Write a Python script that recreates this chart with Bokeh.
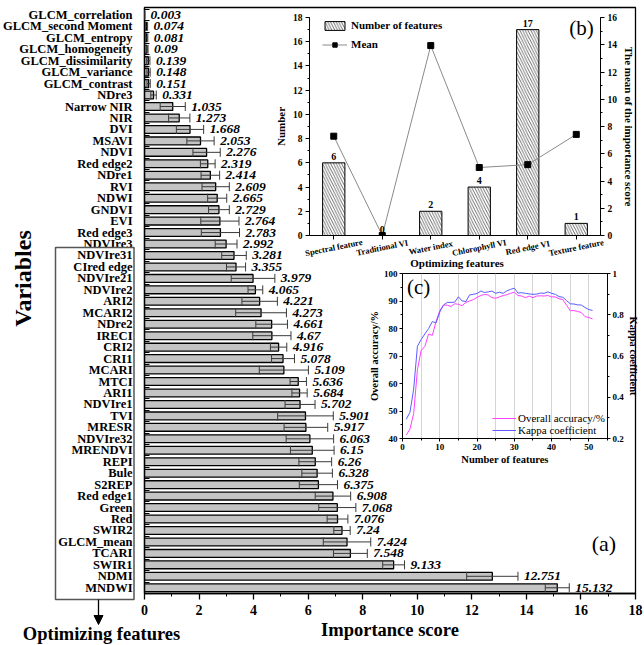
from math import pi
from bokeh.plotting import figure
from bokeh.models import (Range1d, FixedTicker, LinearAxis, ColumnDataSource, Whisker, TeeHead,
                          Arrow, NormalHead, Label, LabelSet, Legend, LegendItem,
                          SingleIntervalTicker, GridBox)
from bokeh.embed import file_html
from bokeh.resources import INLINE
from bokeh.core.properties import value

SERIF = "Liberation Serif"

# ---------------- data ----------------
variables = ["GLCM_correlation", "GLCM_second Moment", "GLCM_entropy", "GLCM_homogeneity",
             "GLCM_dissimilarity", "GLCM_variance", "GLCM_contrast", "NDre3", "Narrow NIR", "NIR",
             "DVI", "MSAVI", "NDVI", "Red edge2", "NDre1", "RVI", "NDWI", "GNDVI", "EVI", "Red edge3",
             "NDVIre3", "NDVIre31", "CIred edge", "NDVIre21", "NDVIre2", "ARI2", "MCARI2", "NDre2",
             "IRECI", "CRI2", "CRI1", "MCARI", "MTCI", "ARI1", "NDVIre1", "TVI", "MRESR", "NDVIre32",
             "MRENDVI", "REPI", "Bule", "S2REP", "Red edge1", "Green", "Red", "SWIR2", "GLCM_mean",
             "TCARI", "SWIR1", "NDMI", "MNDWI"]
importance = [0.003, 0.074, 0.081, 0.09, 0.139, 0.148, 0.151, 0.331, 1.035, 1.273,
              1.668, 2.053, 2.276, 2.319, 2.414, 2.609, 2.665, 2.729, 2.764, 2.783,
              2.992, 3.281, 3.355, 3.979, 4.065, 4.221, 4.273, 4.661, 4.67, 4.916,
              5.078, 5.109, 5.636, 5.684, 5.702, 5.901, 5.917, 6.063, 6.15, 6.26,
              6.328, 6.375, 6.908, 7.068, 7.076, 7.24, 7.424, 7.548, 9.133, 12.751, 15.132]
importance_sd = [0.0, 0.04, 0.04, 0.04, 0.06, 0.06, 0.06, 0.1, 0.46, 0.39,
                 0.5, 0.5, 0.5, 0.27, 0.34, 0.5, 0.35, 0.38, 0.7, 0.7,
                 0.4, 0.45, 0.35, 0.8, 0.27, 0.65, 0.93, 0.58, 0.7, 0.3,
                 0.42, 0.9, 0.3, 0.28, 0.55, 1.02, 0.8, 0.87, 0.8, 0.6,
                 0.56, 0.7, 0.65, 0.68, 0.38, 0.3, 0.87, 0.62, 0.4, 0.94, 0.44]

groups = ["Spectral feature", "Traditional VI", "Water index", "Chlorophyll VI",
          "Red edge VI", "Texture feature"]
group_counts = [6, 0, 2, 4, 17, 1]
group_means = [7.29, 0.0, 13.94, 4.99, 5.2, 7.42]

n_features = list(range(1, 52))
overall_accuracy = [41.2, 43.4, 49.1, 65, 72, 73.5, 78, 77.5, 82.5, 86.5,
                    88.5, 88.5, 88, 89, 88.8, 88.3, 89.5, 90, 90.5, 91.3,
                    92, 92.4, 92.2, 91.2, 91, 91.5, 92, 92.3, 92.8, 93.2,
                    92, 91.8, 91.2, 91.8, 91.2, 91.8, 91.9, 91.8, 92, 91.5,
                    91.5, 90.8, 90.5, 88.5, 86.5, 86.5, 86.2, 85.8, 84.3, 84, 83.5]
kappa = [0.293, 0.327, 0.44, 0.647, 0.68, 0.707, 0.733, 0.767, 0.76, 0.813,
         0.847, 0.86, 0.86, 0.861, 0.887, 0.867, 0.864, 0.896, 0.899, 0.903,
         0.915, 0.908, 0.911, 0.915, 0.904, 0.909, 0.904, 0.916, 0.923, 0.929,
         0.905, 0.907, 0.904, 0.901, 0.899, 0.9, 0.905, 0.904, 0.911, 0.904,
         0.899, 0.888, 0.885, 0.869, 0.853, 0.852, 0.848, 0.847, 0.835, 0.825, 0.821]


def style_axis(ax, tick_size, label_size, bold_label=True):
    ax.major_label_text_font = SERIF
    ax.major_label_text_font_style = "bold"
    ax.major_label_text_font_size = tick_size
    ax.major_label_text_color = "black"
    ax.axis_label_text_font = SERIF
    ax.axis_label_text_font_style = "bold" if bold_label else "normal"
    ax.axis_label_text_font_size = label_size
    ax.axis_label_text_color = "black"


COMMON = dict(output_backend="svg", toolbar_location=None, title=None, frame_align=False)

# ---------------- main plot (a) ----------------
idx = list(range(len(variables)))
src = ColumnDataSource(dict(
    y=idx, v=importance,
    lo=[v - s for v, s in zip(importance, importance_sd)],
    hi=[v + s for v, s in zip(importance, importance_sd)],
    lab=[str(v) for v in importance]))

p = figure(width=644, height=645, x_range=Range1d(0, 18), y_range=Range1d(50.5, -0.64),
           min_border_left=143, min_border_right=9, min_border_top=7, min_border_bottom=52,
           **COMMON)
p.grid.visible = False
p.outline_line_color = "black"
p.outline_line_width = 1.3
p.background_fill_color = "white"

p.hbar(y="y", right="v", left=0, height=0.68, source=src,
       fill_color="#c4c4c4", line_color="black", line_width=1.3)
p.add_layout(Whisker(source=src, base="y", lower="lo", upper="hi", dimension="width",
                     line_color="#3a3a3a", line_width=1, level="annotation",
                     upper_head=TeeHead(size=9, line_color="#3a3a3a", line_width=1),
                     lower_head=TeeHead(size=9, line_color="#3a3a3a", line_width=1)))
p.add_layout(LabelSet(source=src, x="hi", y="y", text="lab", x_offset=6,
                      text_baseline="middle", text_font=value(SERIF),
                      text_font_style="bold italic", text_font_size="13.5px",
                      text_color="black"))

ya = p.yaxis[0]
ya.ticker = FixedTicker(ticks=idx, minor_ticks=[i + 0.5 for i in range(-1, 51)])
ya.major_label_overrides = {i: name for i, name in enumerate(variables)}
ya.major_tick_out = 0
ya.major_tick_in = 0
ya.minor_tick_in = 5
ya.minor_tick_out = 0
ya.major_label_standoff = 12
ya.axis_line_width = 1.3
style_axis(ya, "12.5px", "12px")

xa = p.xaxis[0]
xa.ticker = FixedTicker(ticks=list(range(0, 19, 2)), minor_ticks=list(range(1, 18, 2)))
xa.major_tick_out = 6
xa.major_tick_in = 0
xa.minor_tick_out = 3
xa.minor_tick_in = 0
xa.major_tick_line_width = 1.3
xa.axis_line_width = 1.3
xa.major_label_standoff = 5
xa.axis_label = "Importance score"
xa.axis_label_standoff = 2
style_axis(xa, "14px", "18.5px")

p.add_layout(Label(x=16.84, y=46.18, text="(a)", text_align="center", text_baseline="middle",
                   text_font=SERIF, text_font_size="22px", text_color="black"))

# ---------------- inset (b) ----------------
PB_LEFT, PB_RIGHT, PB_BOTTOM = 309, 600, 235   # inset frame edges on the page
gidx = list(range(len(groups)))
gsrc = ColumnDataSource(dict(x=gidx, name=groups, count=group_counts,
                             clab=[str(c) for c in group_counts], mean=group_means))

pb = figure(width=389, height=270, x_range=Range1d(-0.5, 5.5), y_range=Range1d(0, 18),
            min_border_left=54, min_border_right=44, min_border_top=17, min_border_bottom=35,
            **COMMON)
pb.background_fill_color = None
pb.border_fill_color = None
pb.outline_line_color = None
pb.grid.visible = False
pb.extra_y_ranges = {"mean": Range1d(0, 16)}

r_bar = pb.vbar(x="x", top="count", width=0.46, source=gsrc, fill_color="white",
                line_color="black", line_width=1, hatch_pattern="\\", hatch_color="#333333",
                hatch_scale=5.5, hatch_weight=0.7)
r_line = pb.line(x="x", y="mean", source=gsrc, y_range_name="mean",
                 line_color="#8a8a8a", line_width=1)
r_pts = pb.scatter(x="x", y="mean", source=gsrc, y_range_name="mean", marker="square",
                   size=6, fill_color="black", line_color="black")

pb.add_layout(LabelSet(source=gsrc, x="x", y="count", text="clab", y_offset=3,
                       text_align="center", text_baseline="bottom", text_font=value(SERIF),
                       text_font_style="bold", text_font_size="10px", text_color="black"))

ba = pb.xaxis[0]
ba.ticker = FixedTicker(ticks=[], minor_ticks=gidx)
ba.minor_tick_out = 4
ba.minor_tick_in = 0
ba.major_tick_out = 0

la = pb.yaxis[0]
ra = LinearAxis(y_range_name="mean")
pb.add_layout(ra, "right")
for ax, lab in ((la, "Number"), (ra, "The mean of the importance score")):
    ax.ticker = SingleIntervalTicker(interval=2, num_minor_ticks=2)
    ax.major_tick_out = 4
    ax.major_tick_in = 0
    ax.minor_tick_out = 2
    ax.minor_tick_in = 0
    ax.major_label_standoff = 3
    ax.axis_label = lab
    ax.axis_label_standoff = 3
    style_axis(ax, "9.5px", "11px")

pb.add_layout(Label(x=5.11, y=17.1, text="(b)", text_align="center", text_baseline="middle",
                    text_font=SERIF, text_font_size="21px", text_color="black"))

leg_b = Legend(items=[LegendItem(label="Number of features", renderers=[r_bar]),
                      LegendItem(label="Mean", renderers=[r_line, r_pts])],
               location=(13, 185), orientation="vertical", glyph_width=25, glyph_height=11,
               label_height=11, spacing=7, padding=0, margin=0, label_standoff=4,
               border_line_color=None, background_fill_alpha=0,
               label_text_font=SERIF, label_text_font_style="bold",
               label_text_font_size="11px", label_text_color="black")
pb.add_layout(leg_b)

# ---------------- inset (c) ----------------
csrc = ColumnDataSource(dict(n=n_features, oa=overall_accuracy, k=kappa))
pc = figure(width=279, height=205, x_range=Range1d(0, 55), y_range=Range1d(40, 100),
            min_border_left=33, min_border_right=37, min_border_top=11, min_border_bottom=29,
            **COMMON)
pc.background_fill_color = None
pc.border_fill_color = None
pc.outline_line_color = "black"
pc.outline_line_width = 1
pc.extra_y_ranges = {"kappa": Range1d(0.2, 1.0)}
pc.ygrid.visible = False
pc.xgrid.ticker = SingleIntervalTicker(interval=5)
pc.xgrid.grid_line_color = "#d4d4d4"
pc.xgrid.grid_line_width = 1

r_oa = pc.line(x="n", y="oa", source=csrc, line_color="#ff40ff", line_width=1)
r_k = pc.line(x="n", y="k", source=csrc, y_range_name="kappa", line_color="#5c5cff", line_width=1)

rc = LinearAxis(y_range_name="kappa")
pc.add_layout(rc, "right")
cx = pc.xaxis[0]
cl = pc.yaxis[0]
cx.ticker = SingleIntervalTicker(interval=10, num_minor_ticks=2)
cl.ticker = SingleIntervalTicker(interval=10, num_minor_ticks=2)
rc.ticker = SingleIntervalTicker(interval=0.2, num_minor_ticks=2)
for ax, lab in ((cx, "Number of features"), (cl, "Overall accuracy/%"), (rc, "Kappa coefficient")):
    ax.major_tick_out = 3
    ax.major_tick_in = 0
    ax.minor_tick_out = 2
    ax.minor_tick_in = 0
    ax.major_label_standoff = 2
    ax.axis_label = lab
    ax.axis_label_standoff = 1
    style_axis(ax, "9px", "10.5px")

pc.add_layout(Label(x=4.35, y=95.2, text="(c)", text_align="center", text_baseline="middle",
                    text_font=SERIF, text_font_size="21px", text_color="black"))
leg_c = Legend(items=[LegendItem(label="Overall accuracy/%", renderers=[r_oa]),
                      LegendItem(label="Kappa coefficient", renderers=[r_k])],
               location="bottom_right", glyph_width=24, glyph_height=12, label_height=12,
               spacing=0, padding=0, margin=2, label_standoff=2,
               border_line_color=None, background_fill_alpha=0,
               label_text_font=SERIF, label_text_font_size="11px", label_text_color="black")
pc.add_layout(leg_c)

# ---------------- overlay for texts outside the frames (page pixel coordinates) -------------
ov = figure(width=644, height=645, x_range=Range1d(0, 644), y_range=Range1d(645, 0),
            x_axis_location=None, y_axis_location=None,
            min_border_left=0, min_border_right=0, min_border_top=0, min_border_bottom=0,
            **COMMON)
ov.grid.visible = False
ov.outline_line_color = None
ov.background_fill_color = None
ov.border_fill_color = None

ov.quad(left=55, right=133.5, top=247, bottom=599, fill_color=None,
        line_color="#555555", line_width=1.5)
ov.add_layout(Arrow(x_start=98, y_start=599, x_end=98, y_end=624,
                    line_color="black", line_width=1.3,
                    end=NormalHead(size=9, fill_color="black", line_color="black")))
ov.add_layout(Label(x=22, y=278, text="Variables", angle=pi / 2, text_align="center",
                    text_baseline="middle", text_font=SERIF, text_font_style="bold",
                    text_font_size="24px", text_color="black"))
ov.add_layout(Label(x=101, y=633, text="Optimizing features", text_align="center",
                    text_baseline="middle", text_font=SERIF, text_font_style="bold",
                    text_font_size="18.5px", text_color="black"))

step = (PB_RIGHT - PB_LEFT) / len(groups)
osrc = ColumnDataSource(dict(px=[PB_LEFT + (i + 0.5) * step for i in gidx],
                             py=[PB_BOTTOM] * len(groups), name=groups))
ov.add_layout(LabelSet(source=osrc, x="px", y="py", text="name", y_offset=-12, angle=0.2,
                       text_align="center", text_baseline="middle", text_font=value(SERIF),
                       text_font_style="bold", text_font_size="8.5px", text_color="black"))
ov.add_layout(Label(x=(PB_LEFT + PB_RIGHT) / 2 + 2, y=PB_BOTTOM + 27, text="Optimizing features",
                    text_align="center", text_baseline="middle", text_font=SERIF,
                    text_font_style="bold", text_font_size="11px", text_color="black"))

layout = GridBox(children=[(p, 0, 0, 4, 3), (pb, 0, 1, 2, 2), (pc, 1, 2, 2, 1), (ov, 0, 0, 4, 3)],
                 rows=["262px", "8px", "197px", "178px"],
                 cols=["255px", "110px", "279px"])

open("out.html", "w").write(file_html(layout, INLINE))
